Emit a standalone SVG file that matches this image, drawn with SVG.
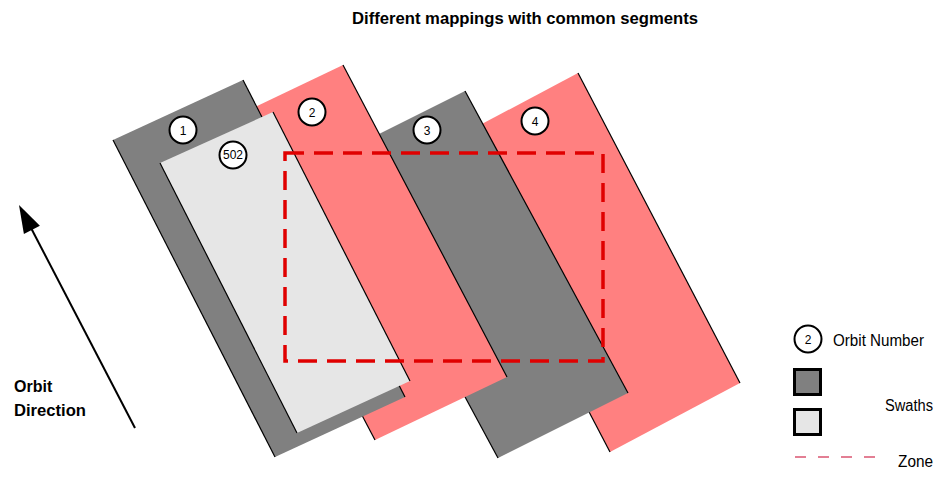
<svg xmlns="http://www.w3.org/2000/svg" width="944" height="481" viewBox="0 0 944 481">
<style>
.dark{fill:#808080}
.pink{fill:#ff8080}
.light{fill:#e6e6e6}
.edge{stroke:#000;stroke-width:1.2;fill:none}
.orb{fill:#fff;stroke:#000;stroke-width:2}
.num{font-family:"Liberation Sans",Arial,sans-serif;font-size:12px;fill:#000;text-anchor:middle}
.lbl{font-family:"Liberation Sans",Arial,sans-serif;font-size:16px;fill:#000}
.bold{font-family:"Liberation Sans",Arial,sans-serif;font-weight:bold;fill:#000}
.zone{fill:none;stroke:#e00000;stroke-width:3.5;stroke-dasharray:19 10}
</style>
<rect width="944" height="481" fill="#fff"/>
<text class="bold" x="352" y="24" font-size="16" textLength="346" lengthAdjust="spacingAndGlyphs">Different mappings with common segments</text>

<g id="swath4">
<polygon class="pink" points="448,142 578,73 740,383 610,452"/>
<line class="edge" x1="448" y1="142" x2="610" y2="452"/>
<line class="edge" x1="578" y1="73" x2="740" y2="383"/>
</g>
<g id="swath3">
<polygon class="dark" points="335,156 465,91 628,393 498,458"/>
<line class="edge" x1="335" y1="156" x2="498" y2="458"/>
<line class="edge" x1="465" y1="91" x2="628" y2="393"/>
</g>
<g id="swath2">
<polygon class="pink" points="211,128 343,65 507,377 375,440"/>
<line class="edge" x1="211" y1="128" x2="375" y2="440"/>
<line class="edge" x1="343" y1="65" x2="507" y2="377"/>
</g>
<g id="swath1">
<polygon class="dark" points="113,140 243,80 405,397 275,457"/>
<line class="edge" x1="113" y1="140" x2="275" y2="457"/>
<line class="edge" x1="243" y1="80" x2="405" y2="397"/>
</g>
<g id="swath502">
<polygon class="light" points="160,163 273,112 410,381 297,433"/>
<line class="edge" x1="160" y1="163" x2="297" y2="433"/>
<line class="edge" x1="273" y1="112" x2="410" y2="381"/>
</g>

<g id="zone">
<rect class="zone" x="285" y="153" width="318" height="208"/>
</g>

<g id="orbit1"><circle class="orb" cx="183" cy="130" r="13.5"/><text class="num" x="183" y="134.5">1</text></g>
<g id="orbit502"><circle class="orb" cx="233" cy="155" r="13.5"/><text class="num" x="233" y="159" font-size="11">502</text></g>
<g id="orbit2"><circle class="orb" cx="312" cy="112" r="13.5"/><text class="num" x="312" y="116.5">2</text></g>
<g id="orbit3"><circle class="orb" cx="427" cy="130" r="13.5"/><text class="num" x="427" y="134.5">3</text></g>
<g id="orbit4"><circle class="orb" cx="535" cy="121" r="13.5"/><text class="num" x="535" y="125.5">4</text></g>

<g id="connectors">
<line x1="135" y1="428" x2="30" y2="226" stroke="#000" stroke-width="2"/>
<polygon points="19,205 23.9,233.9 39.9,225.7" fill="#000"/>
</g>
<g id="orbit-direction">
<text class="bold" x="14" y="392" font-size="16">Orbit</text>
<text class="bold" x="14" y="416" font-size="16" textLength="72" lengthAdjust="spacingAndGlyphs">Direction</text>
</g>

<g id="legend">
<circle class="orb" cx="808" cy="339" r="13.5"/>
<text class="num" x="808" y="343.5">2</text>
<text class="lbl" x="833" y="346" textLength="91" lengthAdjust="spacingAndGlyphs">Orbit Number</text>
<rect x="794.5" y="369.5" width="26" height="25" fill="#808080" stroke="#000" stroke-width="3"/>
<rect x="794.5" y="409.5" width="26" height="25" fill="#e6e6e6" stroke="#000" stroke-width="3"/>
<text class="lbl" x="885" y="411" textLength="48" lengthAdjust="spacingAndGlyphs">Swaths</text>
<line x1="795" y1="457" x2="878" y2="457" stroke="#c8002a" stroke-width="1.2" stroke-dasharray="11 12"/>
<text class="lbl" x="898" y="467" textLength="35" lengthAdjust="spacingAndGlyphs">Zone</text>
</g>
</svg>
